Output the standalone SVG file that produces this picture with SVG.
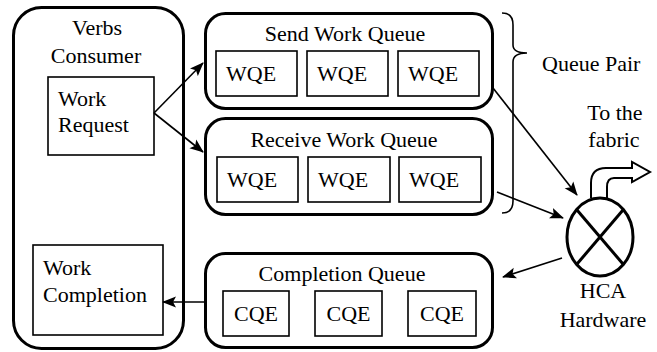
<svg xmlns="http://www.w3.org/2000/svg" width="657" height="352" viewBox="0 0 657 352">
  <style>
    .outer { fill: #fff; stroke: #000; stroke-width: 3; }
    .inner { fill: #fff; stroke: #000; stroke-width: 1.6; }
    .conn { fill: none; stroke: #000; stroke-width: 1.6; }
  </style>
  <defs>
    <marker id="arrow" markerUnits="userSpaceOnUse" markerWidth="14" markerHeight="12" viewBox="0 0 14 12" refX="13" refY="6" orient="auto">
      <path d="M0,0.5 L14,6 L0,11.5 L3,6 Z" fill="#000"/>
    </marker>
  </defs>
  <rect width="657" height="352" fill="#fff"/>

  <!-- Verbs Consumer -->
  <g id="verbs-consumer">
    <rect class="outer" x="13.5" y="7.5" width="170" height="341" rx="28"/>
    <text font-family="Liberation Serif, serif" font-size="22" text-anchor="middle" x="97" y="35">Verbs</text>
    <text font-family="Liberation Serif, serif" font-size="22" text-anchor="middle" x="96" y="63">Consumer</text>
  </g>
  <g id="work-request">
    <rect class="inner" x="48" y="77" width="106" height="78"/>
    <text font-family="Liberation Serif, serif" font-size="22" x="58" y="106">Work</text>
    <text font-family="Liberation Serif, serif" font-size="22" x="58" y="132">Request</text>
  </g>
  <g id="work-completion">
    <rect class="inner" x="33" y="245" width="130" height="90"/>
    <text font-family="Liberation Serif, serif" font-size="22" x="43" y="275">Work</text>
    <text font-family="Liberation Serif, serif" font-size="22" x="43" y="302">Completion</text>
  </g>

  <!-- Send Work Queue -->
  <g id="send-queue">
    <rect class="outer" x="205.5" y="13.5" width="287" height="95" rx="20"/>
    <text font-family="Liberation Serif, serif" font-size="22" text-anchor="middle" x="345" y="41">Send Work Queue</text>
    <rect class="inner" x="216" y="51" width="81" height="45"/>
    <rect class="inner" x="307" y="51" width="81" height="45"/>
    <rect class="inner" x="398" y="51" width="81" height="45"/>
    <text font-family="Liberation Serif, serif" font-size="22" x="226" y="81">WQE</text>
    <text font-family="Liberation Serif, serif" font-size="22" x="317" y="81">WQE</text>
    <text font-family="Liberation Serif, serif" font-size="22" x="408" y="81">WQE</text>
  </g>

  <!-- Receive Work Queue -->
  <g id="receive-queue">
    <rect class="outer" x="205.5" y="118.5" width="287" height="96" rx="20"/>
    <text font-family="Liberation Serif, serif" font-size="22" text-anchor="middle" x="344" y="147">Receive Work Queue</text>
    <rect class="inner" x="217" y="157" width="81" height="45"/>
    <rect class="inner" x="308" y="157" width="82" height="45"/>
    <rect class="inner" x="399" y="157" width="82" height="45"/>
    <text font-family="Liberation Serif, serif" font-size="22" x="227" y="187">WQE</text>
    <text font-family="Liberation Serif, serif" font-size="22" x="318" y="187">WQE</text>
    <text font-family="Liberation Serif, serif" font-size="22" x="409" y="187">WQE</text>
  </g>

  <!-- Completion Queue -->
  <g id="completion-queue">
    <rect class="outer" x="205.5" y="253.5" width="287" height="94" rx="20"/>
    <text font-family="Liberation Serif, serif" font-size="22" text-anchor="middle" x="342" y="281">Completion Queue</text>
    <rect class="inner" x="223" y="291" width="66" height="45"/>
    <rect class="inner" x="315" y="291" width="67" height="45"/>
    <rect class="inner" x="408" y="291" width="68" height="45"/>
    <text font-family="Liberation Serif, serif" font-size="22" text-anchor="middle" x="256" y="321">CQE</text>
    <text font-family="Liberation Serif, serif" font-size="22" text-anchor="middle" x="348.5" y="321">CQE</text>
    <text font-family="Liberation Serif, serif" font-size="22" text-anchor="middle" x="442" y="321">CQE</text>
  </g>

  <!-- Queue Pair brace -->
  <g id="queue-pair">
    <path class="conn" d="M502,13 Q513,13 513,25 L513,45 Q513,53 527,53 Q513,53 513,62 L513,201 Q513,213 502,213"/>
    <text font-family="Liberation Serif, serif" font-size="22" x="542" y="71">Queue Pair</text>
  </g>

  <!-- HCA Hardware -->
  <g id="hca-hardware">
    <path d="M591,198 L591,183 Q591,168 606,168 L632,168 L632,162 L650,172 L632,182 L632,178 L614,178 Q607,178 607,187 L607,198" fill="#fff" stroke="#000" stroke-width="2"/>
    <ellipse cx="600" cy="237" rx="33" ry="39" fill="#fff" stroke="#000" stroke-width="3"/>
    <line x1="577" y1="210" x2="623" y2="264" stroke="#000" stroke-width="3"/>
    <line x1="623" y1="210" x2="577" y2="264" stroke="#000" stroke-width="3"/>
    <text font-family="Liberation Serif, serif" font-size="22" text-anchor="middle" x="615" y="120">To the</text>
    <text font-family="Liberation Serif, serif" font-size="22" text-anchor="middle" x="614" y="147">fabric</text>
    <text font-family="Liberation Serif, serif" font-size="22" text-anchor="middle" x="603" y="298">HCA</text>
    <text font-family="Liberation Serif, serif" font-size="22" text-anchor="middle" x="603" y="327">Hardware</text>
  </g>

  <!-- Connectors -->
  <g id="connectors">
    <line class="conn" x1="154" y1="113" x2="203" y2="63" marker-end="url(#arrow)"/>
    <line class="conn" x1="154" y1="113" x2="203" y2="152" marker-end="url(#arrow)"/>
    <line class="conn" x1="493" y1="88" x2="577" y2="195" marker-end="url(#arrow)"/>
    <line class="conn" x1="497" y1="192" x2="563" y2="218" marker-end="url(#arrow)"/>
    <line class="conn" x1="562" y1="258" x2="503" y2="277" marker-end="url(#arrow)"/>
    <line class="conn" x1="205" y1="302" x2="163" y2="302" marker-end="url(#arrow)"/>
  </g>
</svg>
